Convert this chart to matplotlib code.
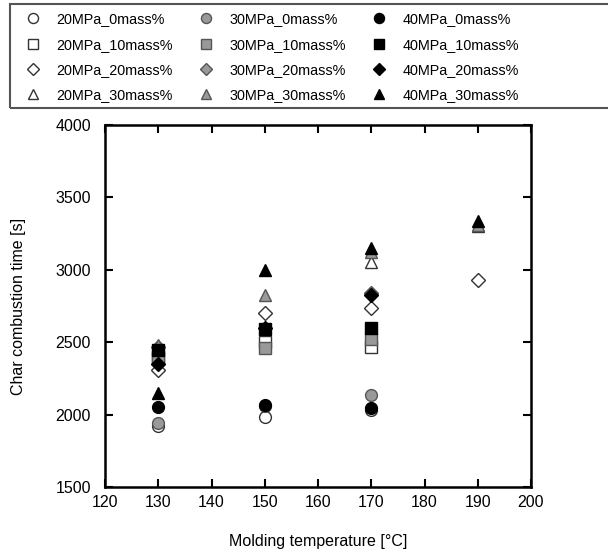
import numpy as np
import matplotlib
matplotlib.use("Agg")
import matplotlib.pyplot as plt
from matplotlib.patches import Rectangle

plt.rcParams["font.family"] = ["Liberation Sans", "DejaVu Sans"]

nan = np.nan
temps = [130, 150, 170, 190]
pressures = ["20MPa", "30MPa", "40MPa"]
masses = ["0mass%", "10mass%", "20mass%", "30mass%"]

# char combustion time [s], one list per pressure / mass fraction
p20_m0 = [1920, 1980, 2030, nan]
p20_m10 = [2390, 2500, 2465, nan]
p20_m20 = [2305, 2700, 2735, 2930]
p20_m30 = [2420, nan, 3055, 3300]
p30_m0 = [1945, 2060, 2135, nan]
p30_m10 = [2400, 2460, 2525, nan]
p30_m20 = [2470, nan, 2840, nan]
p30_m30 = [2480, 2825, 3120, 3310]
p40_m0 = [2055, 2065, 2045, nan]
p40_m10 = [2445, 2590, 2600, nan]
p40_m20 = [2350, 2600, 2825, nan]
p40_m30 = [2150, 3000, 3150, 3340]

values = [
    [p20_m0, p20_m10, p20_m20, p20_m30],
    [p30_m0, p30_m10, p30_m20, p30_m30],
    [p40_m0, p40_m10, p40_m20, p40_m30],
]

fills = ["white", "#999999", "black"]
edges = ["#333333", "#555555", "black"]
shapes = ["o", "s", "D", "^"]
sizes = [8.5, 8.5, 7.5, 8.5]

fig = plt.figure(figsize=(6.08, 5.56), dpi=100)
ax = fig.add_axes([105 / 608, 1 - 487 / 556, 426 / 608, 362 / 556])

for i, p in enumerate(pressures):
    for j, m in enumerate(masses):
        ax.plot(temps, values[i][j], linestyle="none", marker=shapes[j], ms=sizes[j],
                mfc=fills[i], mec=edges[i], mew=1.0, label=f"{p}_{m}")

ax.set_xlim(120, 200)
ax.set_ylim(1500, 4000)
ax.set_xticks(range(120, 201, 10))
ax.set_yticks(range(1500, 4001, 500))
ax.tick_params(direction="in", length=6, width=1.5, top=True, right=True, labelsize=11.5)
ax.tick_params(axis="y", pad=10)
ax.tick_params(axis="x", pad=6)
for s in ax.spines.values():
    s.set_linewidth(1.8)
ax.set_xlabel("Molding temperature [°C]", fontsize=11.5, labelpad=17)
ax.set_ylabel("Char combustion time [s]", fontsize=11.5, labelpad=21)

# legend box runs off the right edge of the figure, as in the original
fig.patches.append(Rectangle((10 / 608, 1 - 108 / 556), 620 / 608, 104 / 556,
                             transform=fig.transFigure, fill=False,
                             edgecolor="#555555", linewidth=1.5))
leg = fig.legend(loc="upper left", bbox_to_anchor=(20 / 608, 1 - 8 / 556), ncol=3,
                 fontsize=10.4, frameon=False,
                 handlelength=1.2, handletextpad=1.0, columnspacing=1.72,
                 labelspacing=0.78, borderpad=0.3, borderaxespad=0, markerscale=0.85)

fig.savefig("out.png", dpi=100)
